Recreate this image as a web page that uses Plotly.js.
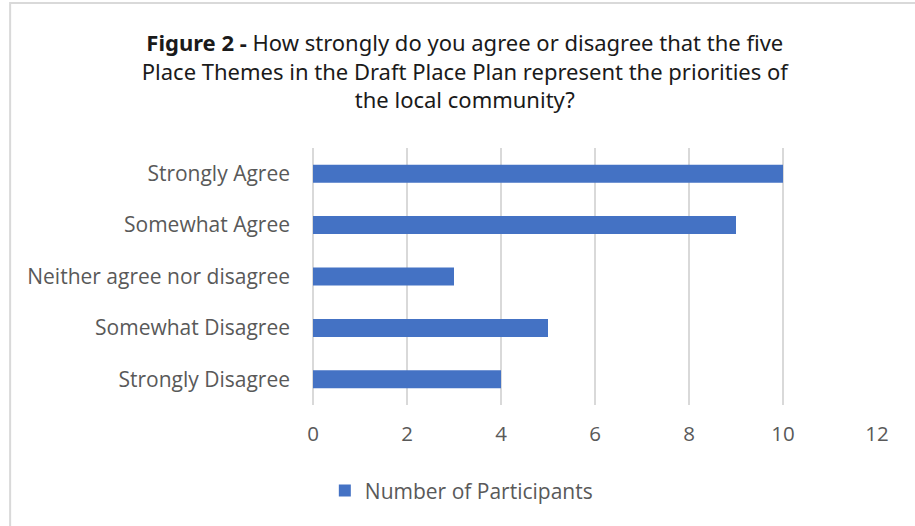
<!DOCTYPE html>
<html><head><meta charset="utf-8">
<script src="https://cdn.plot.ly/plotly-3.0.1.min.js"></script>
<style>html,body{margin:0;padding:0;background:#fff}#chart{width:915px;height:526px}</style>
</head><body><div id="chart"></div>
<script>
const categories = ["Strongly Disagree","Somewhat Disagree","Neither agree nor disagree","Somewhat Agree","Strongly Agree"];
const participants = [4,5,3,9,10];
const seriesName = "Number of Participants";
const tickVals = [0,2,4,6,8,10,12];

const data = [{
  type: 'bar', orientation: 'h',
  y: categories, x: participants, name: seriesName,
  marker: {color: '#4472C4'},
  hoverinfo: 'x+y'
}];

const layout = {
  width: 915, height: 526,
  margin: {l: 313, r: 38, t: 148, b: 121},
  paper_bgcolor: '#fff', plot_bgcolor: '#fff',
  font: {family: 'Open Sans, sans-serif', color: '#595959', size: 20},
  title: {
    text: '<b>Figure 2 -</b> How strongly do you agree or disagree that the five<br>Place Themes in the Draft Place Plan represent the priorities of<br>the local community?',
    font: {family: 'Noto Sans, sans-serif', size: 22, color: '#1a1a1a'},
    x: 0.508, xref: 'container', xanchor: 'center',
    y: 0.903, yref: 'container', yanchor: 'top'
  },
  bargap: 0.65,
  xaxis: {
    range: [0, 12], tickvals: tickVals, showgrid: true, gridcolor: '#d9d9d9', gridwidth: 2,
    zeroline: true, zerolinecolor: '#d9d9d9', zerolinewidth: 2,
    ticks: '', ticklabelstandoff: 14, tickfont: {size: 20.5, color: '#595959'}, fixedrange: true
  },
  yaxis: {
    ticks: '', ticklabelstandoff: 22, tickfont: {size: 21, color: '#595959'}, fixedrange: true,
    showgrid: false, automargin: false
  },
  showlegend: true,
  legend: {
    orientation: 'h', xref: 'container', yref: 'container',
    x: 0.355, xanchor: 'left', y: 0.067, yanchor: 'middle',
    font: {size: 21, color: '#595959'}, itemwidth: 30
  },
  shapes: [{
    type: 'rect', xref: 'paper', yref: 'paper',
    x0: -0.537, x1: 1.2, y0: -0.6, y1: 1.564,
    line: {color: '#d9d9d9', width: 2}, fillcolor: 'rgba(0,0,0,0)', layer: 'below'
  }]
};
Plotly.newPlot('chart', data, layout, {displayModeBar: false, staticPlot: false});
</script></body></html>
